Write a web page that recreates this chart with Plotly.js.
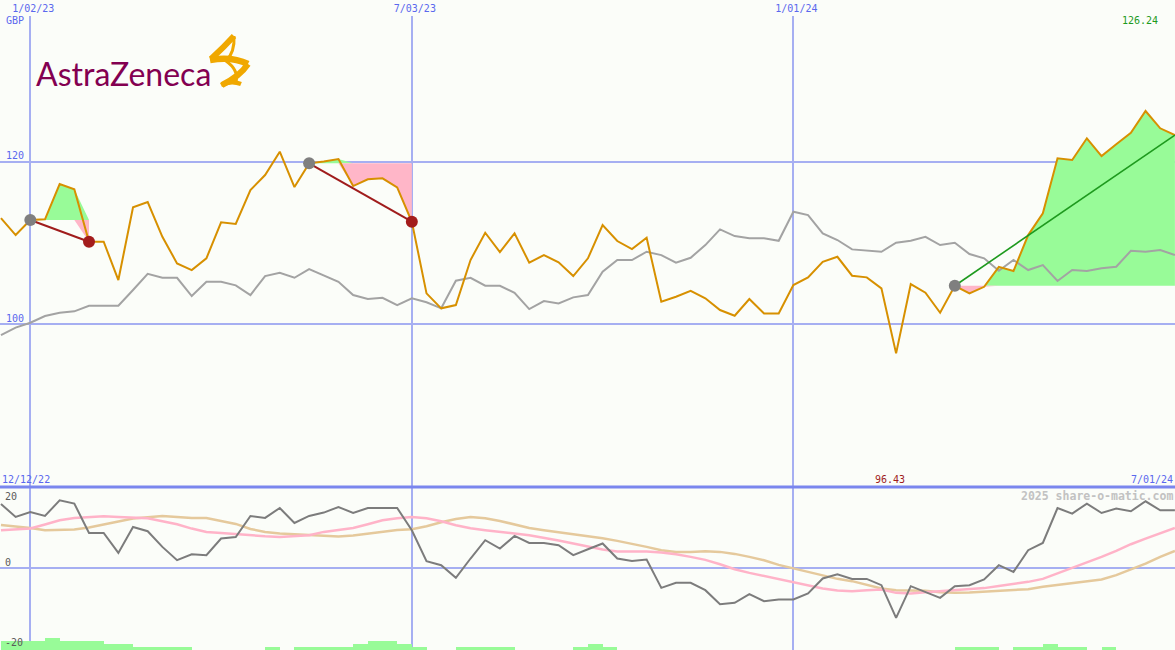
<!DOCTYPE html>
<html>
<head>
<meta charset="utf-8">
<script src="https://cdn.plot.ly/plotly-3.0.1.min.js"></script>
<style>html,body{margin:0;padding:0;background:#fbfdf9;}#chart{width:1175px;height:650px;}</style>
</head>
<body>
<div id="chart"></div>
<script>
// ---- data (weekly) ----
const dates = [
'2022-12-19','2022-12-26','2023-01-02','2023-01-09','2023-01-16','2023-01-23','2023-01-30','2023-02-06','2023-02-13','2023-02-20',
'2023-02-27','2023-03-06','2023-03-13','2023-03-20','2023-03-27','2023-04-03','2023-04-10','2023-04-17','2023-04-24','2023-05-01',
'2023-05-08','2023-05-15','2023-05-22','2023-05-29','2023-06-05','2023-06-12','2023-06-19','2023-06-26','2023-07-03','2023-07-10',
'2023-07-17','2023-07-24','2023-07-31','2023-08-07','2023-08-14','2023-08-21','2023-08-28','2023-09-04','2023-09-11','2023-09-18',
'2023-09-25','2023-10-02','2023-10-09','2023-10-16','2023-10-23','2023-10-30','2023-11-06','2023-11-13','2023-11-20','2023-11-27',
'2023-12-04','2023-12-11','2023-12-18','2023-12-25','2024-01-01','2024-01-08','2024-01-15','2024-01-22','2024-01-29','2024-02-05',
'2024-02-12','2024-02-19','2024-02-26','2024-03-04','2024-03-11','2024-03-18','2024-03-25','2024-04-01','2024-04-08','2024-04-15',
'2024-04-22','2024-04-29','2024-05-06','2024-05-13','2024-05-20','2024-05-27','2024-06-03','2024-06-10','2024-06-17','2024-06-24',
'2024-07-01'];

const price = [
113.07,110.98,112.83,112.92,117.26,116.61,110.16,110.16,105.45,114.39,
115.04,110.77,107.50,106.68,108.12,112.55,112.34,116.52,118.36,121.23,
116.89,119.80,120.02,120.33,117.01,117.84,117.96,116.85,112.62,103.81,
101.97,102.37,107.91,111.27,108.89,111.19,107.58,108.52,107.63,105.94,
108.12,112.21,110.25,109.26,110.65,102.78,103.39,104.13,103.20,101.76,
101.06,103.11,101.35,101.35,104.83,105.78,107.70,108.31,105.98,105.78,
104.43,96.43,104.96,103.89,101.43,104.75,103.81,104.62,107.08,106.56,
110.98,113.65,120.42,120.21,122.88,120.70,122.14,123.57,126.24,124.11,
123.28];

const indexLine = [
98.68,99.60,100.20,101.02,101.43,101.60,102.29,102.29,102.29,104.22,
106.22,105.73,105.73,103.48,105.24,105.24,104.80,103.60,105.94,106.35,
105.73,106.80,106.06,105.24,103.60,103.11,103.27,102.37,103.20,102.71,
101.97,105.37,105.73,104.75,104.75,103.89,101.88,102.87,102.58,103.32,
103.60,106.47,107.91,107.91,108.93,108.52,107.58,108.19,109.75,111.68,
110.86,110.58,110.58,110.28,113.85,113.44,111.19,110.37,109.22,109.05,
108.93,110.04,110.28,110.77,109.75,110.04,108.65,108.12,106.59,107.91,
106.68,107.29,105.33,106.68,106.56,106.89,107.08,109.05,108.93,109.14,
108.52];

const momentum = [
15.8,12.6,13.83,12.84,16.72,15.9,8.64,8.64,3.70,10.12,
9.06,5.19,1.90,3.38,3.14,7.26,7.65,12.84,12.35,14.81,
11.11,12.84,13.68,15.06,13.58,14.81,14.81,14.81,9.31,1.65,
0.67,-2.47,2.32,6.84,4.79,7.90,6.17,6.17,5.60,3.14,
4.62,6.02,2.32,1.73,2.07,-4.94,-3.70,-3.70,-5.51,-8.96,
-8.64,-6.49,-8.22,-7.80,-7.80,-6.32,-2.62,-1.56,-2.72,-2.72,
-4.27,-12.35,-4.52,-5.93,-7.41,-4.52,-4.27,-2.86,0.67,-0.99,
4.37,6.17,14.81,13.43,15.9,13.58,14.67,14.0,16.47,14.25,
14.25];

const maFast = [
9.31,9.55,9.72,10.71,11.78,12.35,12.6,12.76,12.6,12.35,
12.27,11.53,10.79,9.72,8.90,8.65,8.32,8.07,7.83,7.66,
7.83,8.07,8.9,9.47,9.88,10.79,11.78,12.27,12.6,12.27,
11.53,10.54,9.8,9.31,8.98,8.49,8.07,7.5,6.76,6.02,
5.27,4.53,4.04,4.04,4.04,3.80,3.38,2.72,1.98,0.91,
-0.32,-1.23,-1.97,-2.79,-3.45,-4.27,-5.09,-5.59,-5.75,-5.51,
-5.34,-6.17,-6.33,-6.0,-5.75,-5.51,-5.34,-5.0,-4.5,-4.02,
-3.45,-2.71,-1.39,0.09,1.24,2.72,4.21,5.85,7.25,8.65,
9.88];

const maSlow = [
10.62,10.30,9.88,9.31,9.31,9.47,9.97,10.79,11.45,12.19,
12.6,12.84,12.6,12.35,12.35,11.7,10.87,9.63,8.9,8.49,
8.32,8.16,7.83,7.74,7.99,8.49,8.9,9.39,9.55,10.3,
11.28,12.1,12.6,12.27,11.61,10.79,9.88,9.31,8.82,8.32,
7.99,7.33,6.68,6.02,5.19,4.37,3.96,3.96,4.12,3.96,
3.46,2.72,1.90,0.75,-0.12,-1.07,-1.89,-2.71,-3.28,-4.19,
-5.09,-5.51,-5.51,-5.67,-6.0,-6.17,-6.08,-5.84,-5.67,-5.51,
-5.26,-4.68,-4.27,-3.86,-3.45,-2.87,-1.80,-0.41,1.07,2.72,
4.21];

const volumeLevel = [
3,3,3,4,3,3,3,2,2,1,
1,1,1,0,0,0,0,0,1,0,
1,1,1,1,2,3,3,2,1,0,
0,1,1,1,1,0,0,0,0,1,
2,1,0,0,0,0,0,0,0,0,
0,0,0,0,0,0,0,0,0,0,
0,0,0,0,0,1,1,1,0,1,
1,2,1,1,0,1,0,0,0,0,
0];

const tradeEntry = ['2023-01-02','2023-05-15','2024-03-18'];
const tradeExit  = ['2023-01-30','2023-07-03','2024-07-01'];
const tradeOpen  = [false,false,true];

const gridDates = ['2023-01-02','2023-07-03','2024-01-01'];
const startLabel = '12/12/22';
const endLabel = '7/01/24';
const currency = 'GBP';
const company = 'AstraZeneca';
const credit = '2025 share-o-matic.com';

// ---- styling helpers ----
const W = 1175, H = 650;
const px = x => x / W;
const py = y => 1 - y / H;
const MONO = 'DejaVu Sans Mono';
const BLUE = '#5a68ee';
const GRID = '#a6aff2';
const GREENFILL = '#98fb98';
const PINKFILL = '#ffb6c8';

const traces = [];

// trade fills
tradeEntry.forEach((ed, k) => {
  const s = dates.indexOf(ed), e = dates.indexOf(tradeExit[k]);
  const xs = dates.slice(s, e + 1);
  const ps = price.slice(s, e + 1);
  const lvl = price[s];
  const base = {x: xs, y: xs.map(() => lvl), mode: 'lines', line: {width: 0}, hoverinfo: 'skip', showlegend: false};
  traces.push(base);
  traces.push({x: xs, y: ps.map(p => Math.max(p, lvl)), mode: 'lines', line: {width: 0}, fill: 'tonexty', fillcolor: GREENFILL, hoverinfo: 'skip', showlegend: false});
  traces.push(Object.assign({}, base));
  traces.push({x: xs, y: ps.map(p => Math.min(p, lvl)), mode: 'lines', line: {width: 0}, fill: 'tonexty', fillcolor: PINKFILL, hoverinfo: 'skip', showlegend: false});
});

// comparison line
traces.push({x: dates, y: indexLine, mode: 'lines', line: {color: '#a3a3a3', width: 2}, showlegend: false});
// price line
traces.push({x: dates, y: price, mode: 'lines', line: {color: '#d79000', width: 2}, showlegend: false});

// trade lines & markers
tradeEntry.forEach((ed, k) => {
  const s = dates.indexOf(ed), e = dates.indexOf(tradeExit[k]);
  traces.push({x: [ed, tradeExit[k]], y: [price[s], price[e]], mode: 'lines',
    line: {color: tradeOpen[k] ? '#1e9a1e' : '#a01c1c', width: tradeOpen[k] ? 1.6 : 2}, showlegend: false});
});
traces.push({x: tradeEntry, y: tradeEntry.map(d => price[dates.indexOf(d)]), mode: 'markers',
  marker: {color: '#7f7f7f', size: 12}, showlegend: false});
const closedExits = tradeExit.filter((d, k) => !tradeOpen[k]);
traces.push({x: closedExits, y: closedExits.map(d => price[dates.indexOf(d)]), mode: 'markers',
  marker: {color: '#a31c1c', size: 12}, showlegend: false});

// lower panel
traces.push({x: dates, y: volumeLevel, type: 'bar', yaxis: 'y3', width: 7 * 86400000, offset: 0,
  marker: {color: GREENFILL, line: {width: 0}}, showlegend: false});
traces.push({x: dates, y: maSlow, yaxis: 'y2', mode: 'lines', line: {color: '#e5c99c', width: 2.5}, showlegend: false});
traces.push({x: dates, y: maFast, yaxis: 'y2', mode: 'lines', line: {color: '#ffb3c8', width: 2.5}, showlegend: false});
traces.push({x: dates, y: momentum, yaxis: 'y2', mode: 'lines', line: {color: '#7c7c7c', width: 2}, showlegend: false});

// extremes
let iMax = 0, iMin = 0;
price.forEach((p, i) => { if (p > price[iMax]) iMax = i; if (p < price[iMin]) iMin = i; });

// logo path (pixel coords -> paper)
function pathPx(str) {
  let n = 0;
  return str.replace(/-?\d+(\.\d+)?/g, m => { const v = parseFloat(m); const r = (n % 2 === 0) ? px(v) : py(v); n++; return r.toFixed(5); });
}
const GOLD = '#f0a800';
const logoStroke = (d, w) => ({type: 'path', xref: 'paper', yref: 'paper', path: pathPx(d), line: {color: GOLD, width: w}});
const shapes = [
  {type: 'line', xref: 'paper', yref: 'paper', x0: 0, x1: 1, y0: py(487), y1: py(487), line: {color: '#7a86ee', width: 3}, layer: 'above'},
  logoStroke('M 234 36 Q 224 47 211 59', 6),
  logoStroke('M 210 60 Q 232 56 248 64', 6.5),
  logoStroke('M 248 64 Q 240 76 222 85', 6),
  logoStroke('M 221 85 Q 231 80 241 84', 4.5),
  logoStroke('M 234 36 Q 235 52 226 61', 3),
  logoStroke('M 226 61 Q 239 70 236 82', 3)
];

const ann = (text, x, y, xa, color, size, extra) => Object.assign({
  text, x: px(x), y: py(y), xref: 'paper', yref: 'paper', xanchor: xa, yanchor: 'middle',
  showarrow: false, font: {family: MONO, size, color}, borderpad: 0
}, extra || {});

const annotations = [
  ann(currency, 5, 21, 'left', BLUE, 10),
  ann(startLabel, 1, 479, 'left', BLUE, 10),
  ann(endLabel, 1174, 479, 'right', BLUE, 10),
  ann(credit, 1174, 496, 'right', '#c4c4c4', 11.5, {font: {family: MONO, size: 11.5, color: '#c2c2c2', weight: 'bold'}}),
  ann('20', 4, 496, 'left', '#5a5a5a', 10),
  ann('0', 4, 562, 'left', '#5a5a5a', 10),
  ann('-20', 4, 642.5, 'left', '#5a5a5a', 10),
  {text: price[iMax].toFixed(2), x: dates[iMax], xref: 'x', y: py(21), yref: 'paper', xshift: -6, showarrow: false,
   font: {family: MONO, size: 10, color: '#1e9a1e'}, yanchor: 'middle'},
  {text: price[iMin].toFixed(2), x: dates[iMin], xref: 'x', y: py(479), yref: 'paper', xshift: -6, showarrow: false,
   font: {family: MONO, size: 10, color: '#a01c1c'}, yanchor: 'middle'},
  {text: company, x: px(34), y: py(74), xref: 'paper', yref: 'paper', xanchor: 'left', yanchor: 'middle', showarrow: false,
   font: {family: 'Lato', size: 32, color: '#830051'}}
];

const layout = {
  width: W, height: H, margin: {l: 0, r: 0, t: 0, b: 0},
  paper_bgcolor: '#fbfdf9', plot_bgcolor: '#fbfdf9', showlegend: false,
  bargap: 0,
  xaxis: {type: 'date', range: ['2022-12-18 13:00', '2024-07-01 01:00'], side: 'top', anchor: 'y',
    tickvals: gridDates, tickformat: '%-m/%d/%y', ticks: '', showline: false, zeroline: false,
    showgrid: true, gridcolor: GRID, gridwidth: 2, ticklabelshift: 3, ticklabelstandoff: 1,
    tickfont: {family: MONO, size: 10, color: BLUE}},
  yaxis: {domain: [py(487), py(16)], range: [80, 137.92], tickvals: [100, 120], ticks: '',
    ticklabelposition: 'inside', ticklabelshift: -6, ticklabelstandoff: 3, showgrid: true, gridcolor: GRID, gridwidth: 2,
    zeroline: false, showline: false, tickfont: {family: MONO, size: 10, color: BLUE}},
  yaxis2: {domain: [0, py(487)], range: [-20.3, 20], tickvals: [0], showticklabels: false, ticks: '',
    showgrid: true, gridcolor: GRID, gridwidth: 2, zeroline: false, showline: false},
  yaxis3: {overlaying: 'y2', range: [0, 54.3], visible: false},
  shapes, annotations
};

Plotly.newPlot('chart', traces, layout, {staticPlot: true, displayModeBar: false});
</script>
</body>
</html>
